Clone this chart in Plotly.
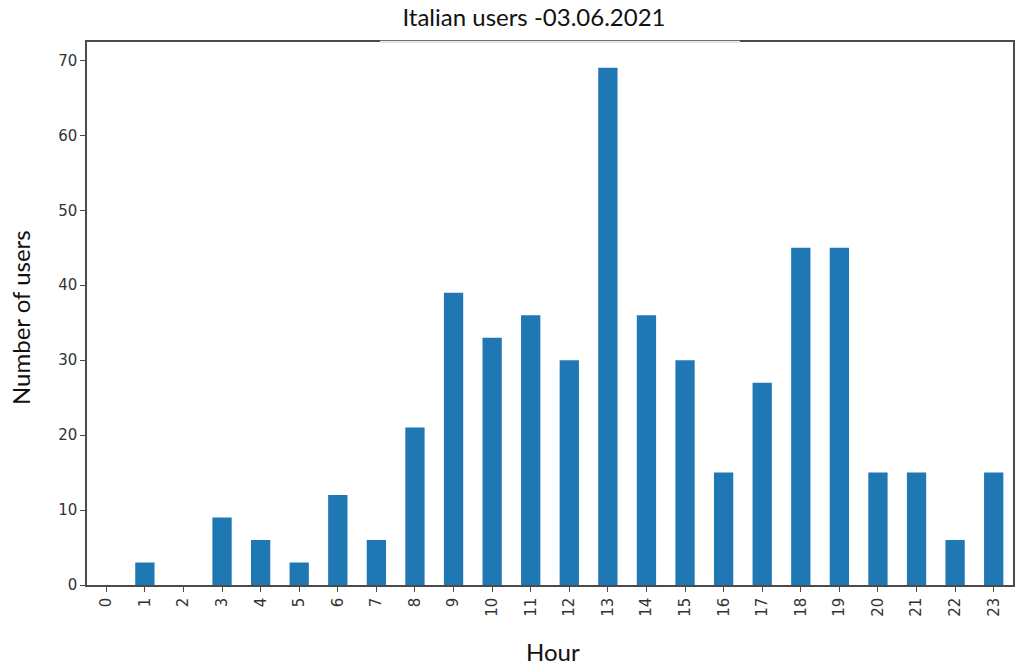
import plotly.graph_objects as go

hours = [str(h) for h in range(24)]
users = [0, 3, 0, 9, 6, 3, 12, 6, 21, 39, 33, 36, 30, 69, 36, 30, 15, 27, 45, 45, 15, 15, 6, 15]
y_ticks = [0, 10, 20, 30, 40, 50, 60, 70]

title_text = "Italian users -03.06.2021"
x_title = "Hour"
y_title = "Number of users"

L, R, T, B = 87, 1013, 42, 585
PW, PH = R - L, B - T

fig = go.Figure()
fig.add_trace(go.Bar(x=hours, y=users, width=0.5, marker=dict(color="#1f77b4", line=dict(width=0))))

axis_color = "#4a4a4a"
label_font = dict(family="Lato, Open Sans, sans-serif", size=24, color="#111")
fig.update_layout(
    width=1020, height=666,
    margin=dict(l=L, r=1020 - R, t=T, b=666 - B, autoexpand=False),
    paper_bgcolor="white", plot_bgcolor="white",
    showlegend=False,
    title=dict(text=title_text, x=534 / 1020, xanchor="center", y=1 - 18 / 666, yanchor="middle",
               font=dict(family="Lato, Open Sans, sans-serif", size=24, color="#111")),
    font=dict(family="DejaVu Sans", size=15, color="#333"),
)
fig.update_xaxes(
    type="category", range=[-0.5, 23.5], tickangle=-90, automargin=False,
    showline=True, linecolor=axis_color, linewidth=1.5, mirror=True,
    ticks="outside", ticklen=5, tickcolor=axis_color, tickwidth=1.2,
    showgrid=False, zeroline=False,
)
fig.update_yaxes(
    range=[0, 72.45], tickvals=y_ticks, automargin=False,
    showline=True, linecolor=axis_color, linewidth=1.5, mirror=True,
    ticks="outside", ticklen=5, tickcolor=axis_color, tickwidth=1.2,
    showgrid=False, zeroline=False,
)
fig.add_annotation(text=x_title, xref="paper", yref="paper", x=(553 - L) / PW, y=-(651 - B) / PH,
                   xanchor="center", yanchor="middle", showarrow=False, font=label_font)
fig.add_annotation(text=y_title, xref="paper", yref="paper", x=(20 - L) / PW, y=(B - 318) / PH,
                   xanchor="center", yanchor="middle", textangle=-90, showarrow=False, font=label_font)
# lighter segment of top frame under the title
fig.add_shape(type="line", xref="paper", yref="paper",
              x0=(380 - L) / PW, x1=(740 - L) / PW, y0=1, y1=1,
              line=dict(color="#e6e6e6", width=2.5))

fig.write_html("out.html", config={"displayModeBar": False},
               post_script="document.body.style.margin='0';document.body.style.overflow='hidden';")
